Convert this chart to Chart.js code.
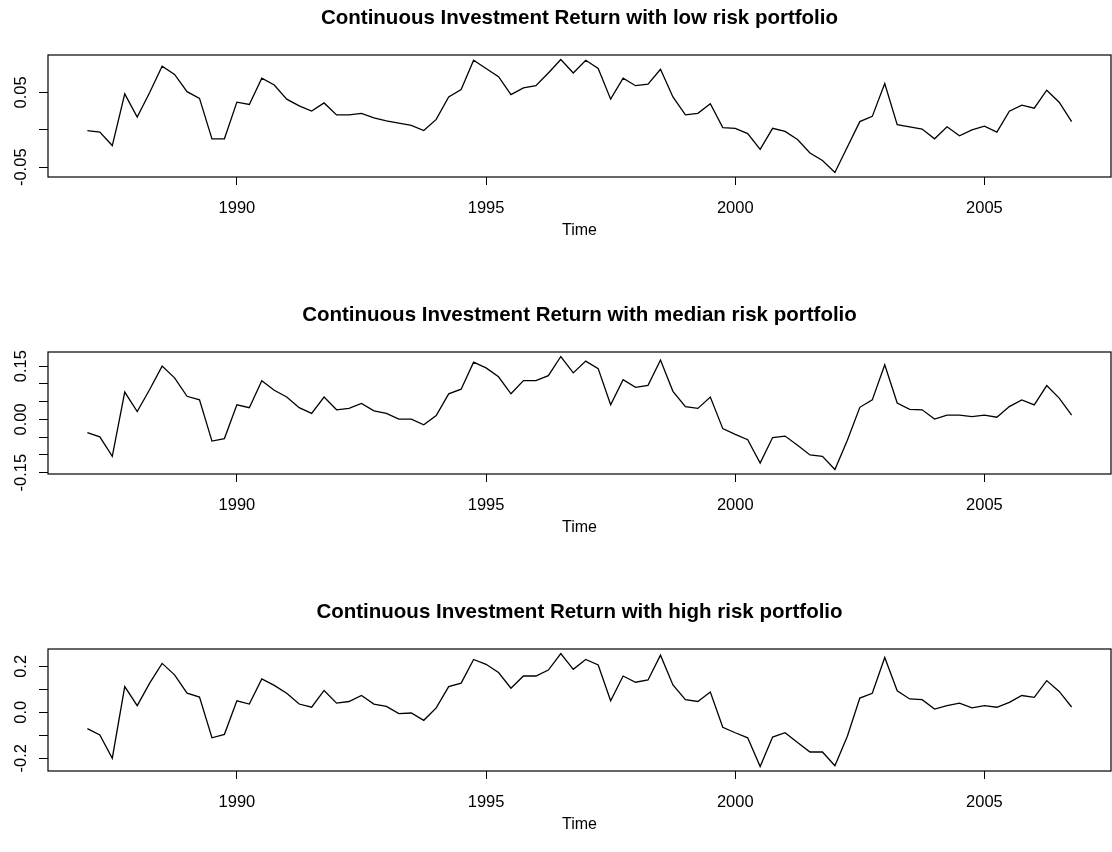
<!DOCTYPE html>
<html>
<head>
<meta charset="utf-8">
<script src="https://cdn.jsdelivr.net/npm/chart.js@4.4.1/dist/chart.umd.min.js"></script>
<style>
  html, body { margin: 0; padding: 0; background: #fff; overflow: hidden; }
  body { width: 1112px; height: 852px; position: relative; }
  canvas { position: absolute; left: 0; }
</style>
</head>
<body>
<canvas id="panelLow" width="1112" height="297" style="top:0px"></canvas>
<canvas id="panelMedian" width="1112" height="297" style="top:297px"></canvas>
<canvas id="panelHigh" width="1112" height="297" style="top:594px"></canvas>
<script>
// Quarterly series, 1987 Q1 - 2006 Q4
const startYear = 1987;
const quartersPerYear = 4;

const lowRisk = [
  -0.001, -0.003, -0.021, 0.048, 0.017, 0.050, 0.085, 0.074, 0.051, 0.042,
  -0.012, -0.012, 0.037, 0.034, 0.069, 0.060, 0.041, 0.032, 0.025, 0.036,
  0.020, 0.020, 0.022, 0.016, 0.012, 0.009, 0.006, -0.001, 0.014, 0.044,
  0.054, 0.093, 0.082, 0.071, 0.047, 0.056, 0.059, 0.076, 0.094, 0.076,
  0.093, 0.082, 0.041, 0.069, 0.059, 0.061, 0.081, 0.044, 0.020, 0.022,
  0.035, 0.003, 0.002, -0.005, -0.026, 0.002, -0.002, -0.013, -0.031, -0.041,
  -0.057, -0.023, 0.011, 0.018, 0.062, 0.007, 0.004, 0.001, -0.012, 0.004,
  -0.008, 0.000, 0.005, -0.003, 0.025, 0.033, 0.029, 0.053, 0.037, 0.011
];

const medianRisk = [
  -0.037, -0.049, -0.104, 0.077, 0.022, 0.084, 0.150, 0.117, 0.065, 0.055,
  -0.061, -0.054, 0.041, 0.033, 0.109, 0.082, 0.063, 0.033, 0.017, 0.063,
  0.027, 0.031, 0.045, 0.024, 0.017, 0.001, 0.001, -0.015, 0.011, 0.072,
  0.085, 0.161, 0.145, 0.120, 0.072, 0.109, 0.109, 0.123, 0.177, 0.131,
  0.164, 0.143, 0.041, 0.112, 0.090, 0.096, 0.167, 0.079, 0.036, 0.031,
  0.063, -0.026, -0.042, -0.057, -0.123, -0.051, -0.047, -0.073, -0.100, -0.104,
  -0.141, -0.059, 0.034, 0.055, 0.154, 0.046, 0.028, 0.027, 0.001, 0.012,
  0.012, 0.008, 0.012, 0.006, 0.036, 0.055, 0.041, 0.095, 0.060, 0.012
];

const highRisk = [
  -0.071, -0.099, -0.200, 0.112, 0.029, 0.127, 0.213, 0.163, 0.083, 0.066,
  -0.111, -0.096, 0.050, 0.036, 0.145, 0.117, 0.083, 0.036, 0.022, 0.095,
  0.040, 0.047, 0.073, 0.036, 0.026, -0.006, -0.003, -0.035, 0.019, 0.112,
  0.127, 0.230, 0.209, 0.173, 0.105, 0.158, 0.158, 0.184, 0.256, 0.187,
  0.230, 0.206, 0.050, 0.158, 0.131, 0.141, 0.249, 0.119, 0.055, 0.047,
  0.088, -0.065, -0.089, -0.111, -0.236, -0.108, -0.089, -0.132, -0.173, -0.173,
  -0.233, -0.104, 0.062, 0.083, 0.239, 0.094, 0.058, 0.055, 0.014, 0.029,
  0.040, 0.019, 0.029, 0.022, 0.043, 0.073, 0.065, 0.138, 0.091, 0.023
];

const yearTicks = [1990, 1995, 2000, 2005];
const yearTickLabels = ['1990', '1995', '2000', '2005'];

const lowTicks = [-0.05, 0, 0.05];
const lowTickLabels = ['-0.05', '', '0.05'];
const medianTicks = [-0.15, -0.10, -0.05, 0, 0.05, 0.10, 0.15];
const medianTickLabels = ['-0.15', '', '', '0.00', '', '', '0.15'];
const highTicks = [-0.2, -0.1, 0, 0.1, 0.2];
const highTickLabels = ['-0.2', '', '0.0', '', '0.2'];

const panelTitles = [
  'Continuous Investment Return with low risk portfolio',
  'Continuous Investment Return with median risk portfolio',
  'Continuous Investment Return with high risk portfolio'
];
const xAxisTitle = 'Time';

// ---- drawing ----
const FAMILY = '"Liberation Sans", Arial, Helvetica, sans-serif';
const TICK_SIZE = 16.5;
const times = lowRisk.map((_, i) => startYear + i / quartersPerYear);

// axis limits padded by 4% of the range on each side
function paddedRange(values) {
  const lo = Math.min(...values), hi = Math.max(...values);
  const pad = (hi - lo) * 0.04;
  return [lo - pad, hi + pad];
}
const [xMin, xMax] = paddedRange(times);

const measureCtx = document.createElement('canvas').getContext('2d');
function widestLabel(labels) {
  measureCtx.font = TICK_SIZE + 'px ' + FAMILY;
  return Math.max(...labels.map(l => measureCtx.measureText(l).width));
}

// plot frame around the data region
const framePlugin = {
  id: 'frame',
  afterDatasetsDraw(chart) {
    const { ctx, chartArea: a } = chart;
    ctx.save();
    ctx.strokeStyle = '#000';
    ctx.lineWidth = 1.2;
    ctx.strokeRect(a.left, a.top, a.right - a.left, a.bottom - a.top);
    ctx.restore();
  }
};

const Y_AXIS_WIDTH = 48;
const Y_TICK_LEN = 9;
const Y_LABEL_CENTER = 21.7;

function makePanel(canvasId, title, series, tickValues, tickLabels) {
  const [yMin, yMax] = paddedRange(series);
  const labelPad = Y_AXIS_WIDTH - Y_TICK_LEN - Y_LABEL_CENTER - widestLabel(tickLabels) / 2;
  return new Chart(document.getElementById(canvasId), {
    type: 'line',
    data: {
      datasets: [{
        data: times.map((t, i) => ({ x: t, y: series[i] })),
        borderColor: '#000',
        borderWidth: 1.3,
        pointRadius: 0,
        tension: 0,
        fill: false
      }]
    },
    plugins: [framePlugin],
    options: {
      responsive: false,
      animation: false,
      devicePixelRatio: 1,
      layout: { padding: { left: 0, right: 1, top: 0, bottom: 0 } },
      plugins: {
        legend: { display: false },
        tooltip: { enabled: false },
        title: {
          display: true,
          text: title,
          color: '#000',
          fullSize: false,
          font: { family: FAMILY, size: 20.5, weight: 'bold' },
          padding: { top: 5.7, bottom: 24.7 }
        }
      },
      scales: {
        x: {
          type: 'linear',
          min: xMin,
          max: xMax,
          afterBuildTicks: s => { s.ticks = yearTicks.map(v => ({ value: v })); },
          afterFit: s => { s.height = 120; },
          border: { display: false },
          grid: { drawOnChartArea: false, drawTicks: true, tickLength: 8, color: '#000', lineWidth: 1 },
          ticks: {
            autoSkip: false,
            maxRotation: 0,
            padding: 14,
            color: '#000',
            font: { family: FAMILY, size: TICK_SIZE },
            callback: (v, i) => yearTickLabels[i]
          },
          title: {
            display: true,
            text: xAxisTitle,
            color: '#000',
            font: { family: FAMILY, size: 16 },
            padding: { top: 0, bottom: 56.4 }
          }
        },
        y: {
          type: 'linear',
          min: yMin,
          max: yMax,
          afterBuildTicks: s => { s.ticks = tickValues.map(v => ({ value: v })); },
          afterFit: s => { s.width = Y_AXIS_WIDTH; },
          border: { display: false },
          grid: { drawOnChartArea: false, drawTicks: true, tickLength: Y_TICK_LEN, color: '#000', lineWidth: 1 },
          ticks: {
            autoSkip: false,
            minRotation: 90,
            maxRotation: 90,
            crossAlign: 'center',
            padding: labelPad,
            color: '#000',
            font: { family: FAMILY, size: TICK_SIZE },
            callback: (v, i) => tickLabels[i]
          }
        }
      }
    }
  });
}

makePanel('panelLow', panelTitles[0], lowRisk, lowTicks, lowTickLabels);
makePanel('panelMedian', panelTitles[1], medianRisk, medianTicks, medianTickLabels);
makePanel('panelHigh', panelTitles[2], highRisk, highTicks, highTickLabels);
</script>
</body>
</html>
